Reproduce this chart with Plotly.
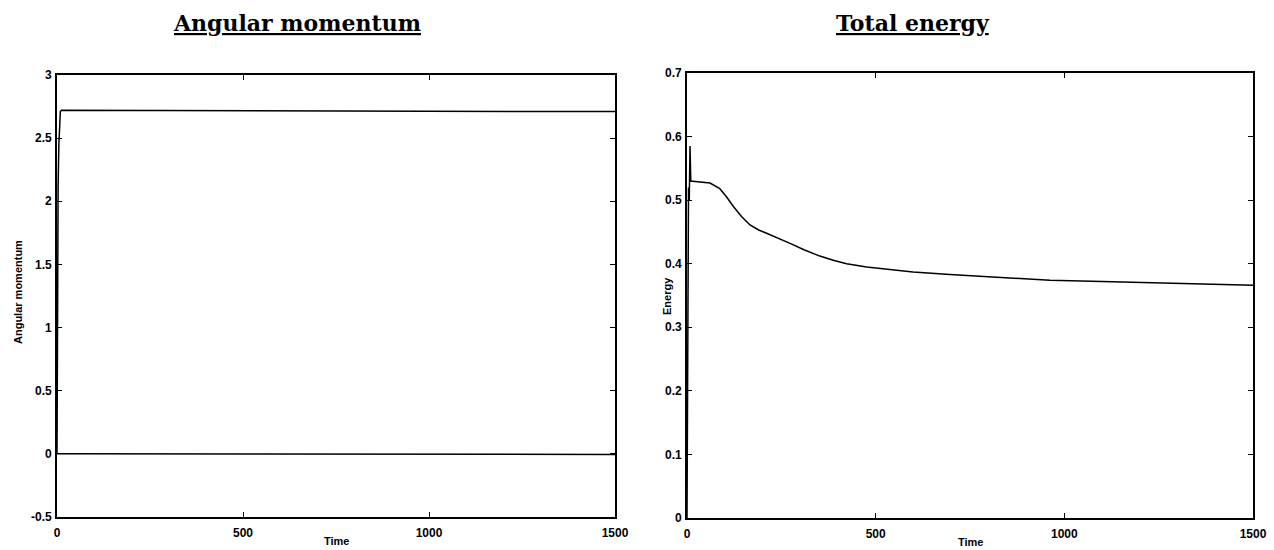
import plotly.graph_objects as go

# ---- data ----
am_time = [0, 1, 2, 3, 5, 7, 9, 12, 1500]
am_total = [0.0, 1.2, 2.05, 2.12, 2.45, 2.65, 2.71, 2.72, 2.71]
am_zero_time = [0, 750, 1500]
am_zero = [0.0, 0.0, -0.005]

en_time = [0, 2, 4, 6, 8, 10, 30, 61, 87, 105, 123, 145, 167, 190, 211, 240,
           273, 310, 352, 390, 423, 476, 540, 599, 697, 777, 870, 962, 1100,
           1227, 1360, 1500]
en_value = [0.0, 0.35, 0.52, 0.50, 0.585, 0.530, 0.529, 0.527, 0.518, 0.505,
            0.490, 0.474, 0.461, 0.453, 0.448, 0.441, 0.432, 0.422, 0.412,
            0.405, 0.400, 0.395, 0.391, 0.387, 0.383, 0.380, 0.377, 0.374,
            0.372, 0.370, 0.368, 0.366]

am_yticks = [-0.5, 0, 0.5, 1, 1.5, 2, 2.5, 3]
am_yticktext = ["-0.5", "0", "0.5", "1", "1.5", "2", "2.5", "3"]
en_yticks = [0, 0.1, 0.2, 0.3, 0.4, 0.5, 0.6, 0.7]
en_yticktext = ["0", "0.1", "0.2", "0.3", "0.4", "0.5", "0.6", "0.7"]
x_ticks = [0, 500, 1000, 1500]

W, H = 1274, 550
LINE = dict(color="black", width=1.5)

fig = go.Figure()
fig.add_trace(go.Scatter(x=am_time, y=am_total, mode="lines", line=LINE,
                         xaxis="x", yaxis="y", showlegend=False))
fig.add_trace(go.Scatter(x=am_zero_time, y=am_zero, mode="lines", line=LINE,
                         xaxis="x", yaxis="y", showlegend=False))
fig.add_trace(go.Scatter(x=en_time, y=en_value, mode="lines", line=LINE,
                         xaxis="x2", yaxis="y2", showlegend=False))

tickfont = dict(family="Liberation Sans, Arial, sans-serif", size=12,
                color="black", weight="bold")
axis_common = dict(showgrid=False, zeroline=False, showline=True,
                   linecolor="black", linewidth=1.6, mirror="ticks",
                   ticks="inside", ticklen=5, tickwidth=1.3,
                   tickcolor="black", tickfont=tickfont, automargin=False)

def xd(a, b):
    return [a / W, b / W]

def yd(top, bottom):
    return [1 - bottom / H, 1 - top / H]

fig.update_layout(
    width=W, height=H,
    margin=dict(l=0, r=0, t=0, b=0),
    paper_bgcolor="white", plot_bgcolor="white",
    xaxis=dict(domain=xd(57, 615), range=[0, 1500], tickvals=x_ticks,
               anchor="y", ticklabelstandoff=4, **axis_common),
    yaxis=dict(domain=yd(75, 517), range=[-0.5, 3], tickvals=am_yticks,
               ticktext=am_yticktext, anchor="x", ticklabelstandoff=1,
               **axis_common),
    xaxis2=dict(domain=xd(687, 1253), range=[0, 1500], tickvals=x_ticks,
                anchor="y2", ticklabelstandoff=4, **axis_common),
    yaxis2=dict(domain=yd(73, 518), range=[0, 0.7], tickvals=en_yticks,
                ticktext=en_yticktext, anchor="x2", ticklabelstandoff=1,
                **axis_common),
)

serif = dict(family="DejaVu Serif, Liberation Serif, serif", size=22,
             color="black", weight="bold")
lab = dict(family="Liberation Sans, Arial, sans-serif", size=11,
           color="black", weight="bold")

anns = [
    dict(text="<u>Angular momentum</u>", x=297 / W, y=1 - 23 / H,
         font=serif),
    dict(text="<u>Total energy</u>", x=913 / W, y=1 - 23 / H, font=serif),
    dict(text="Time", x=336 / W, y=1 - 541 / H, font=lab),
    dict(text="Time", x=970 / W, y=1 - 542 / H, font=lab),
    dict(text="Angular momentum", x=18 / W, y=1 - 292 / H, font=lab,
         textangle=-90),
    dict(text="Energy", x=667 / W, y=1 - 296 / H, font=lab, textangle=-90),
]
for a in anns:
    fig.add_annotation(xref="paper", yref="paper", showarrow=False,
                       xanchor="center", yanchor="middle", **a)

fig.write_html("out.html")
